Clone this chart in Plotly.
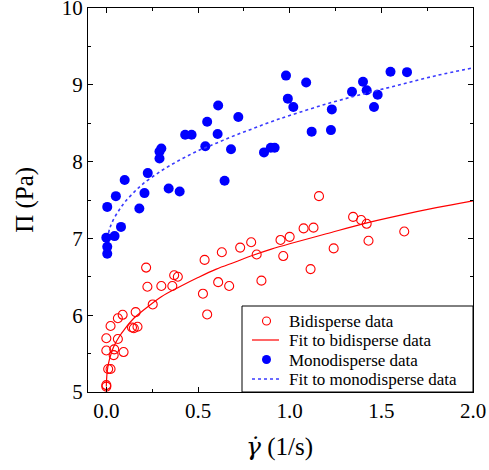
import plotly.graph_objects as go

# Bidisperse data (gamma_dot in 1/s, Pi in Pa)
bi_x = [0.217, 0.536, 0.63, 0.73, 0.224, 0.30, 0.36, 0.37, 0.39, 0.61, 0.67, 0.527, 0.55,
        0.253, 0.16, 0.089, 0.063, 0.023, 0.14, 0.15, 0.17, 0.0, 0.063, 0.0, 0.043, 0.04,
        0.094, 0.01, 0.023, 0.0, 0.0, 0.79, 0.82, 0.846, 0.95, 0.965, 1.00, 1.076, 1.13,
        1.16, 1.114, 1.24, 1.346, 1.39, 1.42, 1.43, 1.625]
bi_y = [6.62, 6.72, 6.82, 6.88, 6.37, 6.38, 6.38, 6.52, 6.50, 6.43, 6.38, 6.28, 6.01,
        6.14, 6.04, 6.005, 5.96, 5.86, 5.84, 5.83, 5.85, 5.70, 5.69, 5.54, 5.555, 5.48,
        5.52, 5.30, 5.30, 5.09, 5.07, 6.95, 6.79, 6.45, 6.98, 6.77, 7.02, 7.13, 7.14,
        7.55, 6.60, 6.87, 7.28, 7.24, 7.19, 6.97, 7.09]

# Monodisperse data
mono_x = [0.61, 0.72, 0.55, 0.43, 0.465, 0.607, 0.54, 0.68, 0.30, 0.29, 0.29, 0.226, 0.10,
          0.208, 0.34, 0.40, 0.645, 0.052, 0.005, 0.18, 0.08, 0.045, 0.0, 0.005, 0.005,
          0.98, 1.09, 0.99, 1.02, 1.23, 1.34, 1.40, 1.42, 1.48, 1.46, 1.55, 1.64, 1.12,
          1.225, 0.86, 0.897, 0.918]
mono_y = [8.73, 8.58, 8.52, 8.35, 8.35, 8.36, 8.20, 8.16, 8.17, 8.13, 8.04, 7.85, 7.76,
          7.59, 7.65, 7.61, 7.75, 7.55, 7.41, 7.39, 7.15, 7.03, 7.01, 6.89, 6.80,
          9.12, 9.03, 8.82, 8.71, 8.68, 8.91, 9.04, 8.93, 8.87, 8.71, 9.17, 9.165, 8.39,
          8.41, 8.12, 8.18, 8.18]

# Fit curves
bi_fit_x = [0.0001, 0.001, 0.005, 0.01, 0.02, 0.04, 0.07, 0.1, 0.15, 0.2, 0.3, 0.4, 0.5,
            0.6, 0.7, 0.8, 0.9, 1.0, 1.2, 1.4, 1.6, 1.8, 2.0]
bi_fit_y = [5.07, 5.15, 5.27, 5.35, 5.45, 5.59, 5.72, 5.82, 5.96, 6.06, 6.24, 6.37, 6.49,
            6.60, 6.69, 6.78, 6.86, 6.93, 7.06, 7.19, 7.30, 7.40, 7.49]
mono_fit_x = [0.012, 0.02, 0.04, 0.07, 0.1, 0.15, 0.2, 0.3, 0.4, 0.5, 0.6, 0.7, 0.8, 0.9,
              1.0, 1.2, 1.4, 1.6, 1.8, 2.0]
mono_fit_y = [7.07, 7.14, 7.25, 7.37, 7.47, 7.60, 7.71, 7.88, 8.02, 8.14, 8.24, 8.34, 8.43,
              8.52, 8.60, 8.75, 8.88, 9.00, 9.12, 9.22]

x_ticks = [0.0, 0.5, 1.0, 1.5, 2.0]
x_ticktext = ["0.0", "0.5", "1.0", "1.5", "2.0"]
y_ticks = [5, 6, 7, 8, 9, 10]

legend_labels = ["Bidisperse data", "Fit to bidisperse data",
                 "Monodisperse data", "Fit to monodisperse data"]

FONT = "'Liberation Serif', 'DejaVu Serif', serif"
RED = "#ff0000"
BLUE = "#0000ff"
BLUE_FIT = "#3a3aff"

W, H = 489, 470
ML, MR, MT, MB = 88, 16, 8, 78
PW, PH = W - ML - MR, H - MT - MB


def px(xp):
    return (xp - ML) / PW


def py(yp):
    return (H - MB - yp) / PH


fig = go.Figure()
fig.add_trace(go.Scatter(x=bi_x, y=bi_y, mode="markers", name=legend_labels[0],
                         showlegend=False,
                         marker=dict(symbol="circle-open", size=9, color=RED,
                                     line=dict(width=1.1, color=RED))))
fig.add_trace(go.Scatter(x=bi_fit_x, y=bi_fit_y, mode="lines", name=legend_labels[1],
                         showlegend=False,
                         line=dict(color=RED, width=1.2, shape="spline")))
fig.add_trace(go.Scatter(x=mono_x, y=mono_y, mode="markers", name=legend_labels[2],
                         showlegend=False,
                         marker=dict(symbol="circle", size=10, color=BLUE)))
fig.add_trace(go.Scatter(x=mono_fit_x, y=mono_fit_y, mode="lines", name=legend_labels[3],
                         showlegend=False,
                         line=dict(color=BLUE_FIT, width=1.6, dash="dot", shape="spline")))

axis_common = dict(showgrid=False, zeroline=False, showline=True, linecolor="black",
                   linewidth=1, mirror="ticks", ticks="inside", ticklen=5, tickwidth=1,
                   tickcolor="black", automargin=False, ticklabeloverflow="allow",
                   tickfont=dict(family=FONT, size=21, color="black"))

# legend box (drawn by hand to match the compact original)
row_y = [321, 340, 359.5, 379]
sym_x = 266.5
shapes = [
    dict(type="rect", xref="paper", yref="paper", x0=px(242), x1=1.0, y0=0.0, y1=py(306),
         line=dict(color="black", width=1), fillcolor="white", layer="above"),
    dict(type="circle", xref="paper", yref="paper", xsizemode="pixel", ysizemode="pixel",
         xanchor=px(sym_x), yanchor=py(row_y[0]), x0=-4, x1=4, y0=-4, y1=4,
         line=dict(color=RED, width=1.1), fillcolor="rgba(0,0,0,0)", layer="above"),
    dict(type="line", xref="paper", yref="paper", x0=px(252), x1=px(279),
         y0=py(row_y[1]), y1=py(row_y[1]), line=dict(color=RED, width=1.2), layer="above"),
    dict(type="circle", xref="paper", yref="paper", xsizemode="pixel", ysizemode="pixel",
         xanchor=px(sym_x), yanchor=py(row_y[2]), x0=-4.5, x1=4.5, y0=-4.5, y1=4.5,
         line=dict(color=BLUE, width=0), fillcolor=BLUE, layer="above"),
    dict(type="line", xref="paper", yref="paper", x0=px(252), x1=px(279),
         y0=py(row_y[3]), y1=py(row_y[3]),
         line=dict(color=BLUE_FIT, width=1.6, dash="dot"), layer="above"),
]

annotations = [
    dict(text=lab, xref="paper", yref="paper", x=px(287), y=py(yy + 0.5),
         xanchor="left", yanchor="middle", showarrow=False,
         font=dict(family=FONT, size=17, color="black"))
    for lab, yy in zip(legend_labels, row_y)
]
annotations += [
    dict(text="<span style='font-family:DejaVu Serif'><i>γ̇</i></span> (1/s)",
         xref="paper", yref="paper", x=0.497, y=-0.143,
         xanchor="center", yanchor="middle", showarrow=False,
         font=dict(family=FONT, size=25, color="black")),
    dict(text="Π (Pa)", xref="paper", yref="paper", x=-0.164, y=0.5, textangle=-90,
         xanchor="center", yanchor="middle", showarrow=False,
         font=dict(family=FONT, size=25, color="black")),
]

fig.update_layout(
    width=W, height=H,
    margin=dict(l=ML, r=MR, t=MT, b=MB),
    paper_bgcolor="white", plot_bgcolor="white",
    font=dict(family=FONT, color="black"),
    xaxis=dict(range=[-0.1, 2.0], tickvals=x_ticks, ticktext=x_ticktext,
               minor=dict(dtick=0.25, tick0=0, ticks="inside", ticklen=3, tickcolor="black"),
               **axis_common),
    yaxis=dict(range=[4.9999, 10.0001], tickvals=y_ticks,
               minor=dict(dtick=0.5, tick0=5, ticks="inside", ticklen=3, tickcolor="black"),
               **axis_common),
    showlegend=False,
    shapes=shapes,
    annotations=annotations,
)

fig.write_html("out.html", config={"displayModeBar": False},
               post_script="document.body.style.margin='0';document.body.style.overflow='hidden';")
